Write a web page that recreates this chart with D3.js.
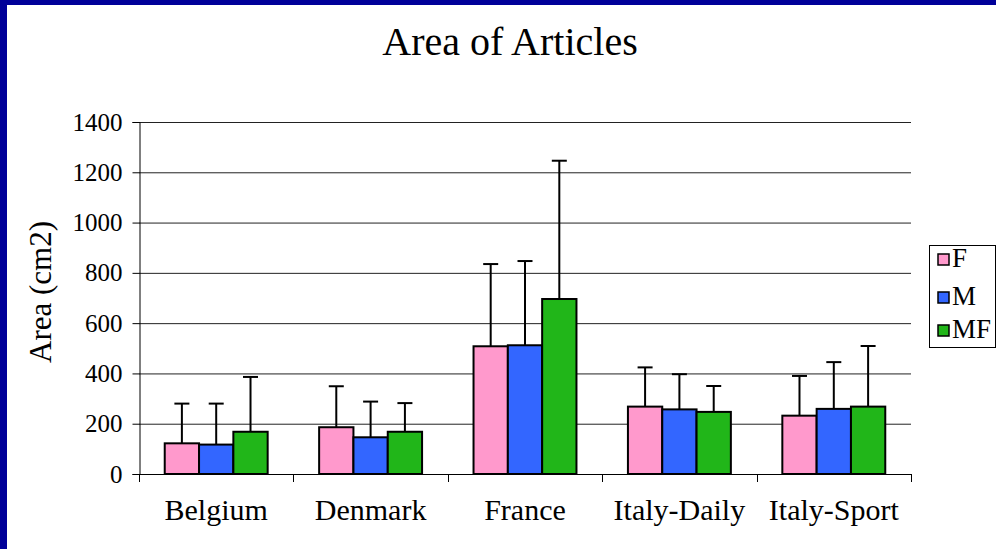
<!DOCTYPE html>
<html>
<head>
<meta charset="utf-8">
<script src="https://cdn.jsdelivr.net/npm/d3@7"></script>
<style>
  html, body { margin: 0; padding: 0; background: #fff; }
  svg { display: block; font-family: "Liberation Serif", "Times New Roman", serif; }
</style>
</head>
<body>
<svg id="chart" width="996" height="549"></svg>
<script>
var categories = ["Belgium", "Denmark", "France", "Italy-Daily", "Italy-Sport"];
var seriesNames = ["F", "M", "MF"];
var valuesF = [122, 186, 508, 268, 232];
var valuesM = [117, 146, 512, 257, 259];
var valuesMF = [168, 168, 696, 247, 268];
// upper error (standard deviation) for each bar
var errF = [158, 163, 327, 156, 158];
var errM = [163, 142, 335, 140, 186];
var errMF = [218, 114, 550, 103, 241];
var yTicks = [0, 200, 400, 600, 800, 1000, 1200, 1400];

var colors = ["#ff99cc", "#3366ff", "#21b619"];

var svg = d3.select("#chart");

// navy frame on the left and top
svg.append("rect").attr("x", 0).attr("y", 0).attr("width", 996).attr("height", 549).attr("fill", "#000099");
svg.append("rect").attr("x", 7).attr("y", 5).attr("width", 989).attr("height", 544).attr("fill", "#fff");

var plot = { left: 139, right: 911, top: 122, bottom: 474 };

var x = d3.scaleBand().domain(categories).range([plot.left, plot.right]).padding(0);
var y = d3.scaleLinear().domain([0, 1400]).range([plot.bottom, plot.top]);

var bw = x.bandwidth() / 4.5;
var xs = d3.scaleBand().domain(seriesNames).range([0.75 * bw, 3.75 * bw]).padding(0);

// gridlines
svg.append("g")
  .selectAll("line")
  .data(yTicks.slice(1))
  .enter().append("line")
  .attr("x1", plot.left).attr("x2", plot.right)
  .attr("y1", function (d) { return y(d) + 0.5; })
  .attr("y2", function (d) { return y(d) + 0.5; })
  .attr("stroke", "#222")
  .attr("stroke-width", 1);

var data = [];
categories.forEach(function (c, i) {
  data.push({ cat: c, s: "F", v: valuesF[i], e: errF[i], k: 0 });
  data.push({ cat: c, s: "M", v: valuesM[i], e: errM[i], k: 1 });
  data.push({ cat: c, s: "MF", v: valuesMF[i], e: errMF[i], k: 2 });
});

var bars = svg.append("g");

// error bars (upper only)
bars.selectAll("line.err")
  .data(data)
  .enter().append("line")
  .attr("class", "err")
  .attr("x1", function (d) { return x(d.cat) + xs(d.s) + bw / 2; })
  .attr("x2", function (d) { return x(d.cat) + xs(d.s) + bw / 2; })
  .attr("y1", function (d) { return y(d.v); })
  .attr("y2", function (d) { return y(d.v + d.e); })
  .attr("stroke", "#000").attr("stroke-width", 2);

bars.selectAll("line.cap")
  .data(data)
  .enter().append("line")
  .attr("class", "cap")
  .attr("x1", function (d) { return x(d.cat) + xs(d.s) + bw / 2 - 7.5; })
  .attr("x2", function (d) { return x(d.cat) + xs(d.s) + bw / 2 + 7.5; })
  .attr("y1", function (d) { return y(d.v + d.e); })
  .attr("y2", function (d) { return y(d.v + d.e); })
  .attr("stroke", "#000").attr("stroke-width", 2);

bars.selectAll("rect")
  .data(data)
  .enter().append("rect")
  .attr("x", function (d) { return x(d.cat) + xs(d.s); })
  .attr("y", function (d) { return y(d.v); })
  .attr("width", bw)
  .attr("height", function (d) { return y(0) - y(d.v); })
  .attr("fill", function (d) { return colors[d.k]; })
  .attr("stroke", "#000").attr("stroke-width", 2);

// y axis
var yAxis = svg.append("g")
  .attr("transform", "translate(" + (plot.left + 0.5) + ",0)")
  .call(d3.axisLeft(y).tickValues(yTicks).tickSize(7).tickPadding(10).tickFormat(d3.format("d")));
yAxis.select(".domain").attr("stroke", "#000");
yAxis.selectAll(".tick line").attr("stroke", "#000");
yAxis.selectAll("text").attr("font-size", 25).attr("font-family", "Liberation Serif").attr("fill", "#000");

// x axis line and category boundary ticks
svg.append("line")
  .attr("x1", plot.left).attr("x2", plot.right)
  .attr("y1", plot.bottom + 0.5).attr("y2", plot.bottom + 0.5)
  .attr("stroke", "#000");

var bounds = categories.map(function (c) { return x(c); }).concat([plot.right]);
svg.append("g").selectAll("line")
  .data(bounds)
  .enter().append("line")
  .attr("x1", function (d) { return Math.round(d) + 0.5; })
  .attr("x2", function (d) { return Math.round(d) + 0.5; })
  .attr("y1", plot.bottom).attr("y2", plot.bottom + 8)
  .attr("stroke", "#000");

var xAxis = svg.append("g")
  .attr("transform", "translate(0," + plot.bottom + ")")
  .call(d3.axisBottom(x).tickSize(0).tickPadding(25));
xAxis.select(".domain").remove();
xAxis.selectAll("text").attr("font-size", 30).attr("font-family", "Liberation Serif").attr("fill", "#000");

// title
svg.append("text")
  .attr("x", 510).attr("y", 55)
  .attr("text-anchor", "middle")
  .attr("font-size", 40)
  .text("Area of Articles");

// y label
svg.append("text")
  .attr("transform", "translate(51,292) rotate(-90)")
  .attr("text-anchor", "middle")
  .attr("font-size", 31)
  .text("Area (cm2)");

// legend
var legend = svg.append("g");
legend.append("rect")
  .attr("x", 929.5).attr("y", 245.5).attr("width", 66).attr("height", 102)
  .attr("fill", "#fff").attr("stroke", "#000");

var legendRows = [259, 297, 330];
seriesNames.forEach(function (s, i) {
  legend.append("rect")
    .attr("x", 938).attr("y", legendRows[i] - 5).attr("width", 11).attr("height", 11)
    .attr("fill", colors[i]).attr("stroke", "#000").attr("stroke-width", 1.5);
  legend.append("text")
    .attr("x", 952).attr("y", legendRows[i] + 8)
    .attr("font-size", 27)
    .text(s);
});
</script>
</body>
</html>
